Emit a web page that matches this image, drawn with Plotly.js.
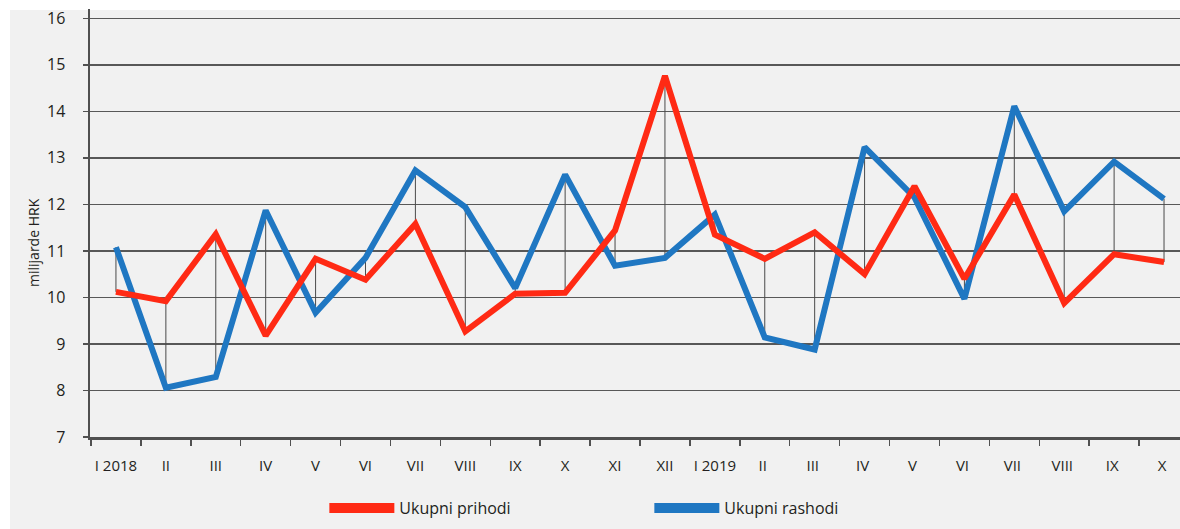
<!DOCTYPE html>
<html>
<head>
<meta charset="utf-8">
<script src="https://cdn.plot.ly/plotly-3.0.1.min.js"></script>
<style>
html,body{margin:0;padding:0;background:#ffffff;}
#chart{position:absolute;left:0;top:0;width:1180px;height:529px;}
</style>
</head>
<body>
<div id="chart"></div>
<script>
// Months (categories)
const categories = ["I 2018","II","III","IV","V","VI","VII","VIII","IX","X","XI","XII",
                    "I 2019","II ","III ","IV ","V ","VI ","VII ","VIII ","IX ","X "];
// Ukupni prihodi (total revenue), billion HRK
const prihodi = [10.12, 9.92, 11.36, 9.18, 10.83, 10.38, 11.58, 9.27, 10.08, 10.10, 11.44, 14.76,
                 11.35, 10.83, 11.40, 10.50, 12.39, 10.40, 12.21, 9.88, 10.93, 10.76];
// Ukupni rashodi (total expenditure), billion HRK
const rashodi = [11.08, 8.06, 8.29, 11.87, 9.67, 10.85, 12.73, 11.94, 10.20, 12.64, 10.68, 10.85,
                 11.78, 9.14, 8.88, 13.23, 12.15, 9.97, 14.11, 11.85, 12.92, 12.12];
const yTicks = [7, 8, 9, 10, 11, 12, 13, 14, 15, 16];
const names = ["Ukupni prihodi", "Ukupni rashodi"];
const yTitle = "milijarde HRK";

const RED = "#ff2a14";
const BLUE = "#1f77c2";

// connector (drop) lines between the two series at each month
const dx = [], dy = [];
categories.forEach((c, i) => { dx.push(c, c, null); dy.push(prihodi[i], rashodi[i], null); });

const traces = [
  {type: "scatter", mode: "lines", x: dx, y: dy, line: {color: "#4a4a4a", width: 1},
   showlegend: false, hoverinfo: "skip"},
  {type: "scatter", mode: "lines", x: categories, y: rashodi, line: {color: BLUE, width: 6},
   showlegend: false},
  {type: "scatter", mode: "lines", x: categories, y: prihodi, line: {color: RED, width: 6},
   showlegend: false},
  {type: "scatter", mode: "lines", x: [null], y: [null], name: names[0], line: {color: RED, width: 17}},
  {type: "scatter", mode: "lines", x: [null], y: [null], name: names[1], line: {color: BLUE, width: 17}}
];

const font = {family: "'Open Sans', 'Noto Sans', sans-serif", color: "#231f20"};

const layout = {
  width: 1180, height: 529,
  margin: {l: 90, r: 0, t: 9, b: 92, pad: 0},
  paper_bgcolor: "#ffffff",
  plot_bgcolor: "rgba(0,0,0,0)",
  font: Object.assign({size: 15}, font),
  shapes: [{
    type: "rect", xref: "paper", yref: "paper", layer: "below",
    x0: -0.0734, x1: 1.01, y0: -0.25, y1: 0.9977,
    fillcolor: "#f1f1f1", line: {width: 0}
  }],
  annotations: [{
    text: yTitle, xref: "paper", yref: "paper",
    x: -0.0523, y: 0.4556, xanchor: "center", yanchor: "middle",
    textangle: -90, showarrow: false,
    font: Object.assign({size: 14}, font)
  }],
  xaxis: {
    type: "category",
    categoryorder: "array",
    categoryarray: categories,
    range: [-0.52, 21.32],
    tickson: "boundaries",
    tickangle: 0,
    ticks: "outside", ticklen: 6, tickwidth: 1.5, tickcolor: "#505050",
    showgrid: false, zeroline: false,
    showline: true, linecolor: "#505050", linewidth: 2.5,
    tickfont: Object.assign({size: 15}, font),
    ticklabelstandoff: 13
  },
  yaxis: {
    range: [7, 16.2],
    tickvals: yTicks,
    ticks: "outside", ticklen: 5, tickwidth: 1.5, tickcolor: "#505050",
    showgrid: true, gridcolor: "#585858", gridwidth: 1.5,
    zeroline: false,
    showline: true, linecolor: "#505050", linewidth: 2.5,
    tickfont: Object.assign({size: 16}, font),
    ticklabelstandoff: 14,
    ticklabeloverflow: "allow"
  },
  showlegend: true,
  legend: {
    orientation: "h",
    x: 0.215, xanchor: "left",
    y: -0.166, yanchor: "middle",
    bgcolor: "rgba(0,0,0,0)",
    font: Object.assign({size: 16}, font),
    itemwidth: 65,
    entrywidth: 245,
    traceorder: "normal"
  }
};

Plotly.newPlot("chart", traces, layout, {displayModeBar: false, staticPlot: true});
</script>
</body>
</html>
